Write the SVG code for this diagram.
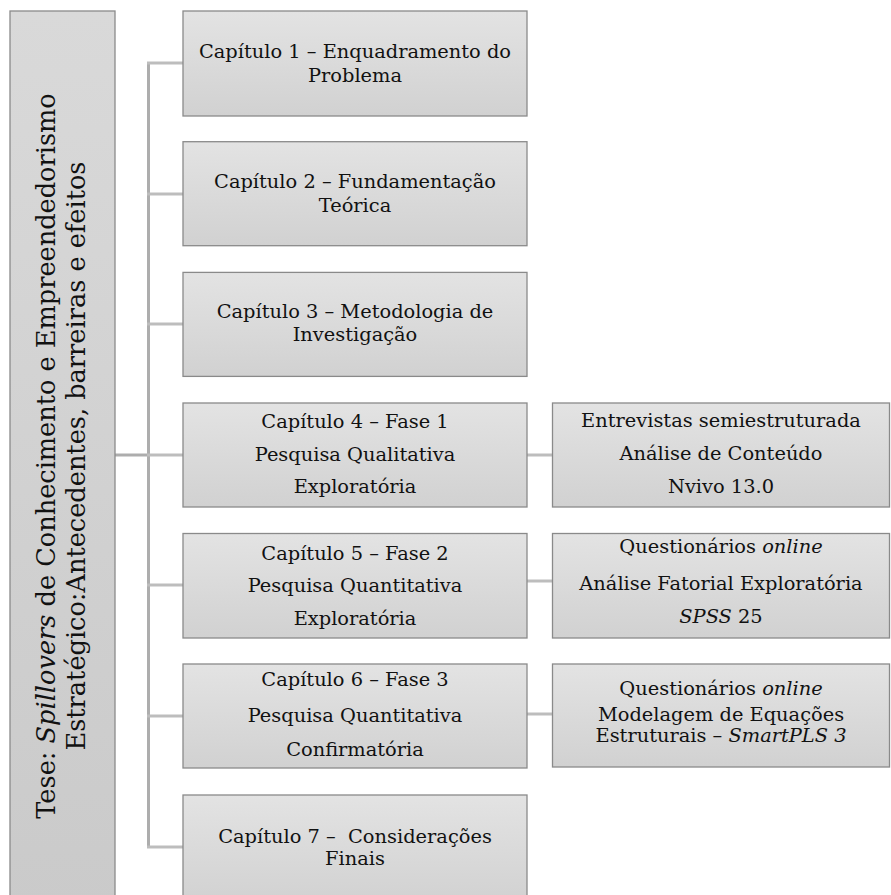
<svg xmlns="http://www.w3.org/2000/svg" width="891" height="895" viewBox="0 0 891 895">
  <defs>
    <linearGradient id="g" x1="0" y1="0" x2="0" y2="1">
      <stop offset="0" stop-color="#e3e3e3"/>
      <stop offset="1" stop-color="#d1d1d1"/>
    </linearGradient>
    <linearGradient id="gl" x1="0" y1="0" x2="0" y2="1">
      <stop offset="0" stop-color="#d9d9d9"/>
      <stop offset="1" stop-color="#cacaca"/>
    </linearGradient>
  </defs>
  <style>
    .box { fill: url(#g); stroke: #8a8a8a; stroke-width: 1.3; }
    .root { fill: url(#gl); stroke: #8a8a8a; stroke-width: 1.3; }
    .t { font-family: "DejaVu Serif", "Liberation Serif", serif; font-size: 19.4px; fill: #111111; text-anchor: middle; }
    .rt { font-family: "DejaVu Serif", "Liberation Serif", serif; font-size: 25.6px; fill: #111111; text-anchor: middle; }
    .i { font-style: italic; }
    .trunk { stroke: #adadad; stroke-width: 3; fill: none; }
    .br { stroke: #bdbdbd; stroke-width: 3; fill: none; }
  </style>

  <g id="connectors">
    <line class="trunk" x1="115" y1="455" x2="148.5" y2="455"/>
    <line class="trunk" x1="148.5" y1="63" x2="148.5" y2="848"/>
    <line class="br" x1="147" y1="63" x2="183" y2="63"/>
    <line class="br" x1="147" y1="194" x2="183" y2="194"/>
    <line class="br" x1="147" y1="324" x2="183" y2="324"/>
    <line class="br" x1="147" y1="455" x2="183" y2="455"/>
    <line class="br" x1="147" y1="585" x2="183" y2="585"/>
    <line class="br" x1="147" y1="716" x2="183" y2="716"/>
    <line class="br" x1="147" y1="847" x2="183" y2="847"/>
    <line class="br" x1="527" y1="455" x2="553" y2="455"/>
    <line class="br" x1="527" y1="581" x2="553" y2="581"/>
    <line class="br" x1="527" y1="714" x2="553" y2="714"/>
  </g>

  <g id="root">
    <rect class="root" x="10" y="11" width="105" height="900"/>
    <text class="rt" transform="translate(55,456) rotate(-90)">Tese: <tspan class="i">Spillovers</tspan> de Conhecimento e Empreendedorismo</text>
    <text class="rt" transform="translate(85,456) rotate(-90)">Estratégico:Antecedentes, barreiras e efeitos</text>
  </g>

  <g id="cap1">
    <rect class="box" x="183" y="11" width="344" height="105"/>
    <text class="t" x="355" y="58.3">Capítulo 1 – Enquadramento do</text>
    <text class="t" x="355" y="81.7">Problema</text>
  </g>
  <g id="cap2">
    <rect class="box" x="183" y="141.7" width="344" height="104"/>
    <text class="t" x="355" y="188.3">Capítulo 2 – Fundamentação</text>
    <text class="t" x="355" y="211.7">Teórica</text>
  </g>
  <g id="cap3">
    <rect class="box" x="183" y="272.4" width="344" height="104"/>
    <text class="t" x="355" y="318.3">Capítulo 3 – Metodologia de</text>
    <text class="t" x="355" y="340.5">Investigação</text>
  </g>
  <g id="cap4">
    <rect class="box" x="183" y="403" width="344" height="104"/>
    <text class="t" x="355" y="427.5">Capítulo 4 – Fase 1</text>
    <text class="t" x="355" y="460.5">Pesquisa Qualitativa</text>
    <text class="t" x="355" y="492.5">Exploratória</text>
  </g>
  <g id="cap5">
    <rect class="box" x="183" y="533.5" width="344" height="104.5"/>
    <text class="t" x="355" y="560">Capítulo 5 – Fase 2</text>
    <text class="t" x="355" y="592">Pesquisa Quantitativa</text>
    <text class="t" x="355" y="625">Exploratória</text>
  </g>
  <g id="cap6">
    <rect class="box" x="183" y="664" width="344" height="104"/>
    <text class="t" x="355" y="686">Capítulo 6 – Fase 3</text>
    <text class="t" x="355" y="722">Pesquisa Quantitativa</text>
    <text class="t" x="355" y="756">Confirmatória</text>
  </g>
  <g id="cap7">
    <rect class="box" x="183" y="795" width="344" height="110"/>
    <text class="t" x="355" y="842.7" xml:space="preserve">Capítulo 7 –  Considerações</text>
    <text class="t" x="355" y="865">Finais</text>
  </g>

  <g id="fase1">
    <rect class="box" x="552.5" y="403" width="337" height="104"/>
    <text class="t" x="721" y="427">Entrevistas semiestruturada</text>
    <text class="t" x="721" y="460">Análise de Conteúdo</text>
    <text class="t" x="721" y="493">Nvivo 13.0</text>
  </g>
  <g id="fase2">
    <rect class="box" x="552.5" y="533.5" width="337" height="104.5"/>
    <text class="t" x="721" y="553">Questionários <tspan class="i">online</tspan></text>
    <text class="t" x="721" y="590">Análise Fatorial Exploratória</text>
    <text class="t" x="721" y="623">  <tspan class="i">SPSS</tspan> 25</text>
  </g>
  <g id="fase3">
    <rect class="box" x="552.5" y="664" width="337" height="103"/>
    <text class="t" x="721" y="695">Questionários <tspan class="i">online</tspan></text>
    <text class="t" x="721" y="720.7">Modelagem de Equações</text>
    <text class="t" x="721" y="741.7">Estruturais – <tspan class="i">SmartPLS 3</tspan></text>
  </g>
</svg>
